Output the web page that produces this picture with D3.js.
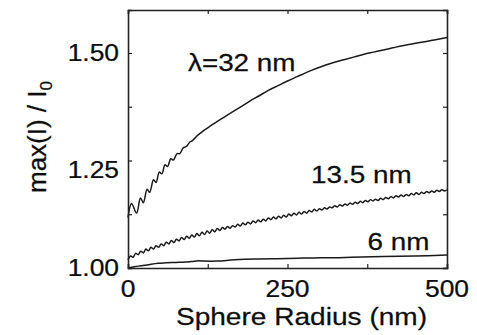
<!DOCTYPE html>
<html>
<head>
<meta charset="utf-8">
<script src="https://cdn.jsdelivr.net/npm/d3@7"></script>
<style>
  html, body { margin:0; padding:0; background:#fff; }
  svg { display:block; }
  text { font-family: "Liberation Sans", Arial, sans-serif; fill:#0d0d0d; stroke:#0d0d0d; stroke-width:0.25px; }
</style>
</head>
<body>
<div id="chart"></div>
<script>
// ---- data ----
const radius32 = [0,5.5,13.5,19.5,24,30,34,40,44,49,53,58,62,67,71,77,81,87,91,97,101,108,113,120,130,140,152,165,178,191,205,220,235,250,265,280,295,310,325,340,355,370,385,400,415,430,445,460,475,490,500];
const ratio32  = [1.117,1.150,1.128,1.163,1.152,1.183,1.176,1.205,1.199,1.223,1.219,1.240,1.236,1.254,1.251,1.266,1.266,1.280,1.282,1.293,1.296,1.307,1.313,1.321,1.331,1.341,1.352,1.364,1.376,1.388,1.400,1.413,1.424,1.435,1.445,1.455,1.464,1.472,1.479,1.485,1.491,1.497,1.502,1.507,1.512,1.517,1.521,1.525,1.529,1.533,1.536];

const radius13 = [0,4,8,12,16,20,24,28,32,36,40,44,48,52,56,60,64,68,72,76,80,84,88,92,96,100,104,108,112,116,120,124,128,132,136,140,144,148,152,156,160,164,168,172,176,180,184,188,192,196,200,204,208,212,216,220,224,228,232,236,240,244,248,252,256,260,264,268,272,276,280,284,288,292,296,300,304,308,312,316,320,324,328,332,336,340,344,348,352,356,360,364,368,372,376,380,384,388,392,396,400,404,408,412,416,420,424,428,432,436,440,444,448,452,456,460,464,468,472,476,480,484,488,492,496,500];
const ratio13  = [1.019,1.028,1.025,1.034,1.031,1.039,1.035,1.044,1.040,1.048,1.044,1.052,1.048,1.056,1.052,1.060,1.056,1.064,1.059,1.067,1.063,1.071,1.066,1.074,1.069,1.077,1.072,1.080,1.075,1.083,1.078,1.086,1.081,1.089,1.084,1.092,1.087,1.094,1.0905,1.0965,1.0925,1.0985,1.0955,1.1015,1.0975,1.1045,1.1005,1.1065,1.1025,1.1095,1.1055,1.1115,1.1075,1.1135,1.1095,1.1165,1.1125,1.1185,1.1145,1.1205,1.1165,1.1225,1.1185,1.1255,1.1215,1.1275,1.1235,1.1295,1.1255,1.1315,1.1275,1.1335,1.1305,1.1365,1.1325,1.138,1.135,1.140,1.137,1.142,1.140,1.145,1.142,1.147,1.144,1.149,1.146,1.151,1.148,1.153,1.150,1.155,1.152,1.157,1.154,1.159,1.156,1.160,1.157,1.162,1.159,1.164,1.161,1.166,1.163,1.168,1.165,1.170,1.166,1.171,1.168,1.173,1.170,1.175,1.171,1.176,1.173,1.178,1.175,1.179,1.176,1.181,1.178,1.182,1.179,1.182];

const radius6 = [0,10,20,30,47,60,75,90,100,110,120,140,167,200,250,300,323,350,400,450,500];
const ratio6  = [1.000,1.003,1.005,1.007,1.011,1.012,1.013,1.014,1.015,1.017,1.016,1.016,1.019,1.021,1.022,1.024,1.024,1.025,1.027,1.028,1.030];

const seriesNames = ["λ=32 nm", "13.5 nm", "6 nm"];

const xTicks = [0, 125, 250, 375, 500];
const xTickLabels = ["0", "", "250", "", "500"];
const yTicks = [1.0, 1.125, 1.25, 1.375, 1.5];
const yTickLabels = ["1.00", "", "1.25", "", "1.50"];

(() => {
  "use strict";

  const W = 477, H = 335;
  const m = { l:128, r:30, t:10, b:67 };
  const FS = 24;   // text in the original looks a bit stretched sideways

  const svg = d3.select("#chart").append("svg").attr("width", W).attr("height", H);

  const x = d3.scaleLinear().domain([0, 500]).range([m.l, W - m.r]);
  const y = d3.scaleLinear().domain([1.0, 1.6]).range([H - m.b, m.t]);

  const txt = (px, py, s, anchor, sx) => svg.append("text")
    .attr("transform", `translate(${px},${py}) scale(${sx || 1.1},1)`)
    .attr("text-anchor", anchor || "start")
    .attr("font-size", FS)
    .text(s);

  // curves
  const line = d3.line().x(d => x(d[0])).y(d => y(d[1])).curve(d3.curveCatmullRom.alpha(0.5));
  const series = [
    d3.zip(radius32, ratio32),
    d3.zip(radius13, ratio13),
    d3.zip(radius6, ratio6)
  ];
  svg.append("g").selectAll("path").data(series).join("path")
    .attr("d", line)
    .attr("fill", "none")
    .attr("stroke", "#1a1a1a")
    .attr("stroke-width", 1.5)
    .attr("stroke-linejoin", "round");

  // frame + inward ticks on all four sides
  const tk = 4;
  const axB = d3.axisBottom(x).tickValues(xTicks).tickSize(-tk).tickFormat("");
  const axT = d3.axisTop(x).tickValues(xTicks).tickSize(-tk).tickFormat("");
  const axL = d3.axisLeft(y).tickValues(yTicks).tickSize(-tk).tickFormat("");
  const axR = d3.axisRight(y).tickValues(yTicks).tickSize(-tk).tickFormat("");
  svg.append("g").attr("transform", `translate(0,${H - m.b})`).call(axB);
  svg.append("g").attr("transform", `translate(0,${m.t})`).call(axT);
  svg.append("g").attr("transform", `translate(${m.l},0)`).call(axL);
  svg.append("g").attr("transform", `translate(${W - m.r},0)`).call(axR);
  svg.selectAll(".domain").attr("stroke", "#222").attr("stroke-width", 1.6);
  svg.selectAll(".tick line").attr("stroke", "#222").attr("stroke-width", 1.2);

  // tick labels
  xTicks.forEach((v, i) => { if (xTickLabels[i]) txt(x(v), H - m.b + 29, xTickLabels[i], "middle"); });
  const yShift = { "1.25": 9 };  // label sits a little under its tick in the source
  yTicks.forEach((v, i) => {
    const s = yTickLabels[i];
    if (s) txt(m.l - 9, y(v) + 8 + (yShift[s] || 0), s, "end");
  });

  // axis titles
  txt(301.5, 325, "Sphere Radius (nm)", "middle", 1.17);
  const yl = svg.append("text")
    .attr("transform", `translate(46,137) rotate(-90)`)
    .attr("text-anchor", "middle")
    .attr("font-size", 26);
  yl.append("tspan").text("max(I) / I");
  yl.append("tspan").attr("font-size", 17).attr("dy", 6).text("0");

  // curve labels
  const labelAt = [[94, 1.459], [287, 1.197], [375.5, 1.042]];
  seriesNames.forEach((s, i) => txt(x(labelAt[i][0]), y(labelAt[i][1]), s, "start", 1.16));
})();
</script>
</body>
</html>
